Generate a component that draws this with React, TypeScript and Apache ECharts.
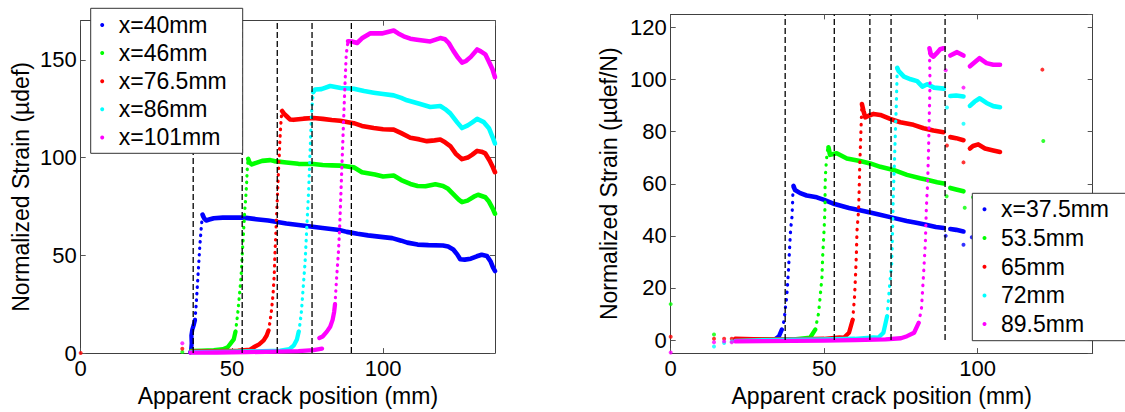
import React, { useEffect, useRef } from "react";
import * as echarts from "echarts";

type P = [number, number] | null;

const FONT = "Liberation Sans, Arial, sans-serif";
const COLORS = ["#0000ff", "#00ff00", "#ff0000", "#00ffff", "#ff00ff"];

// ---------- Left chart ----------
const leftNames = ["x=40mm", "x=46mm", "x=76.5mm", "x=86mm", "x=101mm"];
const leftDashX = [37.2, 53.4, 65, 76.5, 89.5];
const leftXMax = 137;
const leftYMax = 170;

const l40Dots: P[] = [];
const l40Base: P[] = [[36.2, 0.3], [36.5, 1.5], [36.7, 5], [36.6, 9], [36.9, 12], [37.4, 14.5], [37.8, 17]];
const l40Rise: P[] = [[37.8, 17], [38.2, 25], [38.6, 35], [39.0, 45], [39.4, 55], [39.8, 63], [40.1, 68], [40.3, 70.8]];
const l40Top: P[] = [[40.3, 70.8], [40.8, 69], [41.5, 67.8], [42.5, 68.3], [44, 69], [47, 69.3], [50, 69.3], [54, 69.3], [58, 68.5], [62, 67.8], [64.5, 67.2], [68, 66.3], [72, 65.5], [76, 64.7], [80, 64], [85.5, 63], [88, 62], [91.5, 61], [95, 60.2], [100, 59.3], [103, 58.8], [106, 57.5], [108, 56.5], [111.4, 55.5], [115, 55.2], [119.8, 55], [121.5, 54.5], [123.2, 53], [124.5, 50.5], [125.5, 48], [127, 47.8], [129, 48.3], [131, 49.5], [132.6, 50.3], [134.3, 49.7], [135.5, 47], [136.3, 44], [137, 42]];

const l46Dots: P[] = [[33.6, 0.6]];
const l46Base: P[] = [[36.5, 1.1], [40, 1.3], [44, 1.5], [47, 2], [48.6, 3], [49.6, 5], [50.6, 7], [51.2, 11]];
const l46Rise: P[] = [[51.2, 11], [51.6, 16], [52, 21.4], [52.5, 29.8], [53, 38.2], [53.4, 50], [53.9, 63.4], [54.2, 71.8], [54.6, 80], [54.9, 88], [55.1, 95], [55.4, 99.3]];
const l46Top: P[] = [[55.4, 99.3], [55.8, 97.5], [56.6, 96.5], [57.5, 97], [60, 98.3], [62.7, 98.7], [64, 98.2], [68, 97.5], [72, 96.8], [77, 96.7], [80, 96.2], [83, 96], [85.8, 95.9], [90.3, 95], [93, 92.5], [97.3, 91.3], [100, 90.3], [103.5, 90.8], [106, 88.5], [109, 86.5], [111.4, 85.5], [114, 85.3], [117.3, 86.3], [119.8, 85.5], [121.5, 84], [123.2, 81.3], [125, 78.5], [126.1, 77.2], [127.9, 78], [130, 80], [131.4, 81], [133.8, 79.7], [135, 77.5], [136.2, 74], [137, 71.3]];

const l765Dots: P[] = [[0, 0], [33.6, 2.2]];
const l765Base: P[] = [[36.5, 0.8], [45, 1], [52, 1.2], [56, 1.8], [57.2, 3], [59, 4.5], [60.5, 6.5], [61.5, 9], [62.1, 11.5]];
const l765Rise: P[] = [[62.1, 11.5], [62.6, 16], [63.1, 22], [63.6, 30], [64, 40], [64.2, 49.7], [64.5, 60], [64.8, 71.3], [65.1, 82], [65.4, 93], [65.7, 103], [66, 113], [66.3, 120], [66.6, 123.8]];
const l765Top: P[] = [[66.6, 123.8], [67.2, 122.5], [68.2, 121], [69.2, 119.5], [70.4, 119.3], [73.7, 119.9], [77, 120.2], [80, 119.8], [83, 119.2], [85.8, 118.8], [88, 118.2], [90.3, 117.6], [93, 116.2], [96.9, 115.1], [100, 114.5], [103.5, 114.3], [106, 112.5], [109, 110.1], [112, 109.3], [114.5, 108.4], [117, 108.8], [118.9, 109.2], [120.5, 107.8], [122.2, 105.9], [124, 102], [126.1, 99.2], [128, 100], [129.5, 101.5], [131.1, 103.4], [132.5, 103], [133.8, 102.1], [135.2, 98.5], [136.3, 95], [137, 92.5]];

const l86Dots: P[] = [];
const l86Base: P[] = [[36.5, 0.5], [50, 0.7], [60, 1], [66, 1.3], [69, 2], [70.5, 4], [71.5, 7], [72.1, 11]];
const l86Rise: P[] = [[72.1, 11], [72.6, 16], [73, 21.4], [73.6, 34], [74.2, 46.5], [74.6, 59], [75, 71.6], [75.4, 84], [75.7, 96.7], [76, 109], [76.3, 121.8], [76.6, 128], [76.9, 133.5]];
const l86Top: P[] = [[76.9, 133.5], [77.5, 134.8], [79.6, 135], [82.5, 136.6], [86, 135.6], [90.3, 135.2], [93.7, 134], [96.9, 133.2], [100, 132.5], [103.5, 131.8], [106, 130.5], [107.9, 129.3], [112, 127.5], [115.6, 125.9], [118.9, 126.4], [120.5, 124.8], [122.2, 122.6], [124.5, 118], [126.1, 115.1], [128, 116.5], [129.5, 118], [131.1, 119.8], [133.3, 118.1], [135, 115], [136.2, 110.5], [137, 107.2]];

const l101Dots: P[] = [[33.6, 5]];
const l101Base: P[] = [[36.3, 0.2], [45, 0.3], [55, 0.5], [65, 0.8], [72, 1], [77, 1.5], [79.8, 2.3], null, [78.9, 7.7], [80, 8.5], [81.4, 11], [82.5, 13.5], [83.3, 17], [83.8, 21], [84.1, 25]];
const l101Rise: P[] = [[84.1, 25], [84.6, 38], [85.2, 51], [85.6, 63], [86, 79.9], [86.6, 105], [87.2, 130], [87.8, 152.7], [88.4, 159.5]];
const l101Top: P[] = [[88.4, 159.5], [89.7, 159.4], [91.4, 158.6], [93, 161], [95.8, 163.6], [99.6, 163.5], [103.5, 165], [105, 163.5], [106.8, 162], [109, 160.8], [111.2, 160.3], [115.6, 159.4], [118.9, 161.1], [120.5, 160.5], [121.7, 158.6], [123.2, 154.7], [124.8, 151], [126.1, 148.6], [127.5, 149.5], [129, 151.5], [131.1, 155.3], [132.3, 154.3], [133.8, 152.8], [135, 149], [136.2, 145], [137, 141.1]];

// ---------- Right chart ----------
const rightNames = ["x=37.5mm", "53.5mm", "65mm", "72mm", "89.5mm"];
const rightDashX = [37.3, 53.3, 64.9, 71.8, 89.4];
const rightXMax = 137.5;
const rightYMin = -5;
const rightYMax = 125;

const r375Dots: P[] = [[89.6, 40], [95.4, 36.6], [98.1, 39.5]];
const r375Base: P[] = [[21, 0], [28, 0], [33, 0.2], [34, 0.3], [35.3, 1.5], [36.2, 4]];
const r375Rise: P[] = [[36.2, 4], [37, 7.8], [37.3, 11.6], [37.8, 16.6], [38.1, 21.7], [38.4, 27.4], [38.7, 34.4], [38.9, 38.8], [39.1, 42.9], [39.5, 47.1], [39.7, 52], [39.8, 56], [40, 59.2]];
const r375Top: P[] = [[40, 59.2], [40.5, 57.6], [42.2, 56.4], [44.3, 55.5], [47.6, 54.8], [50, 53.8], [53.4, 52.2], [58.1, 50.7], [62.8, 49.5], [67.5, 48.3], [72.2, 47], [76.9, 45.7], [80, 45], [82.8, 44.4], [86.4, 43.4], [89, 43], null, [91.1, 42.6], [93, 42.3], [95.4, 41.7]];

const r535Dots: P[] = [[0, 13.8], [14.1, 2.1], [89.9, 55.2], [95.8, 50.8], [98.5, 54.8], [121.4, 76.4]];
const r535Base: P[] = [[22, 0.3], [30, 0.3], [40, 0.3], [45.4, 0.9], [47.1, 4]];
const r535Rise: P[] = [[47.1, 4], [48.2, 10.4], [48.7, 16.7], [49.3, 24.3], [49.5, 31.8], [49.8, 38.3], [50.1, 45.3], [50.3, 52], [50.3, 59], [50.5, 65], [50.9, 71.1], [51.2, 73.7], [51.4, 74]];
const r535Top: P[] = [[51.4, 74], [51.9, 71.1], [54.1, 71.7], [57.4, 69.7], [61.7, 68.7], [65, 67.8], [68.3, 66.5], [72.6, 65.3], [77, 63.4], [81.3, 62.1], [83.5, 61.5], [86.8, 60.6], [89, 60.1], null, [91.1, 58.4], [93, 57.8], [95.4, 57.1]];

const r65Dots: P[] = [[0, 1.3], [14.1, 0.5], [17.4, 0.5], [19.9, 0.5], [90, 74.7], [95.4, 68.2], [121.1, 103.8]];
const r65Base: P[] = [[21, 0.5], [30, 0.3], [40, 0.3], [50, 0.5], [55, 1], [56.4, 0.9], [58.1, 2.8], [59.3, 7.8]];
const r65Rise: P[] = [[59.3, 7.8], [59.9, 16.7], [60.2, 24.2], [60.5, 33.1], [60.7, 41.9], [61.2, 49.5], [61.4, 57.1], [61.6, 67.2], [61.9, 77.3], [62.2, 87.4], [62.3, 90.6]];
const r65Top: P[] = [[62.3, 90.6], [62.8, 88], [63.4, 85.5], [64.5, 86.1], [66.1, 86.8], [68.3, 86.4], [71.5, 84.9], [74.8, 83.6], [79.1, 82.6], [82.4, 81.3], [85.6, 80.4], [88.9, 79.8], null, [91.1, 77.9], [93, 77.5], [95.4, 76.7], null, [97.5, 73.5], [98.5, 74.5], [100.2, 75.1], [102.4, 73.5], [105.1, 72.8], [107.3, 72.2]];

const r72Dots: P[] = [[14.1, -2.5], [17.4, -1.1], [19.9, -0.5], [90, 89.3], [95.4, 83]];
const r72Base: P[] = [[21, -0.3], [30, 0], [40, 0.2], [50, 0.3], [60, 0.5], [66, 1], [67.6, 0.9], [69.3, 2.8], [70.5, 9.1]];
const r72Rise: P[] = [[70.5, 9.1], [71.3, 20.5], [72, 29.3], [72.3, 41.9], [72.5, 54.5], [72.9, 68.4], [73.1, 76], [73.5, 89.9], [73.7, 98.7], [73.8, 104.5]];
const r72Top: P[] = [[73.8, 104.5], [74.3, 103.2], [76, 101.1], [78.2, 100.1], [80.3, 99.4], [82, 97.3], [83.6, 98.2], [85.8, 96.9], [89, 96.5], null, [91.1, 93.7], [93, 93.9], [95.4, 93.5], null, [97.5, 89.9], [99, 91.5], [100.7, 92.8], [102.9, 91], [105.1, 89.8], [107.3, 89.4]];

const r895Dots: P[] = [[0, -4.8], [14.1, -0.8], [17.4, -0.5], [19.9, -0.8], [89.6, 103.6], [95.4, 96.9]];
const r895Base: P[] = [[21, -0.5], [30, -0.4], [40, -0.3], [50, -0.2], [60, 0], [70, 0.3], [75, 0.7], [77, 1.5], [79.3, 2.8], [80.8, 6.6]];
const r895Rise: P[] = [[80.8, 6.6], [81.7, 12], [82.4, 25.5], [83, 38.2], [83.3, 50.8], [83.7, 60], [84, 72.2], [84.3, 88.6], [84.5, 98.7], [84.3, 112]];
const r895Top: P[] = [[84.3, 112], [84.8, 109.5], [85.6, 108.8], [86.7, 110.1], [87.8, 111.6], [88.9, 112], null, [91.1, 109.2], [93.3, 110.5], [95.4, 109.2], null, [97.5, 105.1], [100.6, 108.2], [102.9, 106.3], [105.1, 105.7], [107.3, 105.7]];

// ---------- helpers ----------
function segments(pts: P[]): [number, number][][] {
  const out: [number, number][][] = [];
  let cur: [number, number][] = [];
  for (const p of pts) {
    if (p === null) {
      if (cur.length) out.push(cur);
      cur = [];
    } else cur.push(p);
  }
  if (cur.length) out.push(cur);
  return out;
}

function lineParts(name: string, color: string, pts: P[], width: number, dash: number[] | null, xi: number, yi: number) {
  return segments(pts).map((seg) => ({
    type: "line",
    name,
    data: seg,
    xAxisIndex: xi,
    yAxisIndex: yi,
    symbol: "none",
    showSymbol: false,
    silent: true,
    color,
    itemStyle: { color },
    lineStyle: { color, width, type: dash ? dash : "solid", cap: "round", join: "round" },
    emphasis: { disabled: true },
    z: 2,
  }));
}

function group(name: string, color: string, dots: P[], base: P[], rise: P[], top: P[], xi: number, yi: number, dash: number[]) {
  const s: any[] = [
    ...lineParts(name, color, base, 4.3, null, xi, yi),
    ...lineParts(name, color, rise, 3.2, dash, xi, yi),
    ...lineParts(name, color, top, 4.6, null, xi, yi),
  ];
  const d = dots.filter((p) => p !== null);
  if (d.length) {
    s.push({
      type: "scatter",
      name,
      data: d,
      xAxisIndex: xi,
      yAxisIndex: yi,
      symbol: "circle",
      symbolSize: 4,
      silent: true,
      itemStyle: { color },
      color,
      emphasis: { disabled: true },
      z: 2,
    });
  }
  return s;
}

function dashLines(xs: number[], y0: number, y1: number, xi: number, yi: number) {
  return xs.map((x) => ({
    type: "line",
    data: [[x, y0], [x, y1]],
    xAxisIndex: xi,
    yAxisIndex: yi,
    symbol: "none",
    silent: true,
    lineStyle: { color: "#000", width: 1.3, type: [6, 3] },
    emphasis: { disabled: true },
    z: 3,
  }));
}

const axisLineStyle = { show: true, onZero: false, lineStyle: { color: "#404040", width: 1 } };
const tickStyle = { show: true, inside: true, length: 5, lineStyle: { color: "#555" } };
const labelStyle = { fontSize: 22, color: "#000", fontFamily: FONT };
const nameStyle = { fontSize: 23, color: "#000", fontFamily: FONT };
const legendText = { fontSize: 23, color: "#000", fontFamily: FONT, lineHeight: 23 };

function xAxes(grid: number, max: number) {
  return [
    {
      type: "value", gridIndex: grid, position: "bottom", min: 0, max, interval: 50,
      axisLine: axisLineStyle, axisTick: tickStyle, splitLine: { show: false },
      axisLabel: { ...labelStyle, margin: 4, showMaxLabel: false },
      name: "Apparent crack position (mm)", nameLocation: "middle", nameGap: 26, nameTextStyle: nameStyle,
    },
    {
      type: "value", gridIndex: grid, position: "top", min: 0, max, interval: 50,
      axisLine: axisLineStyle, axisTick: tickStyle, splitLine: { show: false },
      axisLabel: { show: false },
    },
  ];
}

const option: any = {
  animation: false,
  backgroundColor: "#fff",
  textStyle: { fontFamily: FONT },
  grid: [
    { left: 80.7, top: 20.7, width: 414.3, height: 338.6, show: false },
    { left: 670.7, top: 14.4, width: 422, height: 343.5, show: false },
  ],
  xAxis: [...xAxes(0, leftXMax), ...xAxes(1, rightXMax)],
  yAxis: [
    {
      type: "value", gridIndex: 0, position: "left", min: 0, max: leftYMax, interval: 50,
      axisLine: axisLineStyle, axisTick: tickStyle, splitLine: { show: false },
      axisLabel: { ...labelStyle, margin: 4, showMaxLabel: false },
      name: "Normalized Strain (µdef)", nameLocation: "middle", nameGap: 48, nameTextStyle: nameStyle,
    },
    {
      type: "value", gridIndex: 0, position: "right", min: 0, max: leftYMax, interval: 50,
      axisLine: axisLineStyle, axisTick: tickStyle, splitLine: { show: false },
      axisLabel: { show: false },
    },
    {
      type: "value", gridIndex: 1, position: "left", min: rightYMin, max: rightYMax,
      minInterval: 20, maxInterval: 20, splitNumber: 6,
      axisLine: axisLineStyle, axisTick: tickStyle, splitLine: { show: false },
      axisLabel: { ...labelStyle, margin: 4, showMinLabel: false, showMaxLabel: false },
      name: "Normalized Strain (µdef/N)", nameLocation: "middle", nameGap: 50, nameTextStyle: nameStyle,
    },
    {
      type: "value", gridIndex: 1, position: "right", min: rightYMin, max: rightYMax,
      minInterval: 20, maxInterval: 20, splitNumber: 6,
      axisLine: axisLineStyle, axisTick: tickStyle, splitLine: { show: false },
      axisLabel: { show: false },
    },
  ],
  graphic: [
    {
      type: "rect", z: 15, silent: true,
      shape: { x: 90.7, y: 8.3, width: 152, height: 145 },
      style: { fill: "#fff", stroke: "#333", lineWidth: 1 },
    },
    {
      type: "rect", z: 15, silent: true,
      shape: { x: 972.3, y: 193.3, width: 170, height: 147.4 },
      style: { fill: "#fff", stroke: "#333", lineWidth: 1 },
    },
  ],
  legend: [
    {
      orient: "vertical", left: 100.2, top: 13.5,
      data: leftNames.map((n) => ({ name: n, icon: "circle" })),
      itemWidth: 23, itemHeight: 4, itemGap: 5.1, padding: 0,
      textStyle: legendText, selectedMode: false, z: 20,
    },
    {
      orient: "vertical", left: 982.5, top: 197.8,
      data: rightNames.map((n) => ({ name: n, icon: "circle" })),
      itemWidth: 23, itemHeight: 4, itemGap: 5.7, padding: 0,
      textStyle: legendText, selectedMode: false, z: 20,
    },
  ],
  series: [
    ...group(leftNames[0], COLORS[0], l40Dots, l40Base, l40Rise, l40Top, 0, 0, [0.5, 6]),
    ...group(leftNames[1], COLORS[1], l46Dots, l46Base, l46Rise, l46Top, 0, 0, [0.5, 6]),
    ...group(leftNames[2], COLORS[2], l765Dots, l765Base, l765Rise, l765Top, 0, 0, [0.5, 6]),
    ...group(leftNames[3], COLORS[3], l86Dots, l86Base, l86Rise, l86Top, 0, 0, [0.5, 6]),
    ...group(leftNames[4], COLORS[4], l101Dots, l101Base, l101Rise, l101Top, 0, 0, [0.5, 6]),
    ...dashLines(leftDashX, 0, leftYMax, 0, 0),
    ...group(rightNames[0], COLORS[0], r375Dots, r375Base, r375Rise, r375Top, 2, 2, [0.5, 7]),
    ...group(rightNames[1], COLORS[1], r535Dots, r535Base, r535Rise, r535Top, 2, 2, [0.5, 7]),
    ...group(rightNames[2], COLORS[2], r65Dots, r65Base, r65Rise, r65Top, 2, 2, [0.5, 7]),
    ...group(rightNames[3], COLORS[3], r72Dots, r72Base, r72Rise, r72Top, 2, 2, [0.5, 7]),
    ...group(rightNames[4], COLORS[4], r895Dots, r895Base, r895Rise, r895Top, 2, 2, [0.5, 7]),
    ...dashLines(rightDashX, 0, rightYMax, 2, 2),
  ],
};

export default function App() {
  const ref = useRef<HTMLDivElement>(null);
  useEffect(() => {
    document.body.style.margin = "0";
    const chart = echarts.init(ref.current as HTMLDivElement, null, { renderer: "svg" });
    chart.setOption(option);
    return () => chart.dispose();
  }, []);
  return <div ref={ref} style={{ width: 1125, height: 412 }} />;
}
